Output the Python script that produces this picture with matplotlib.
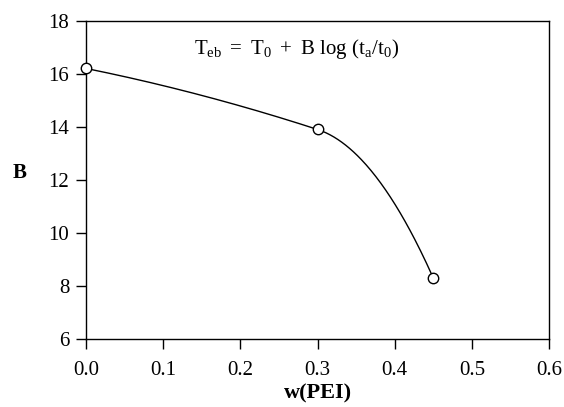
import numpy as np
import matplotlib
matplotlib.use("Agg")
import matplotlib.pyplot as plt

w_pei = [0.0, 0.30, 0.45]
B_vals = [16.2, 13.9, 8.3]
x_ticks = [0.0, 0.1, 0.2, 0.3, 0.4, 0.5, 0.6]
y_ticks = [6, 8, 10, 12, 14, 16, 18]

plt.rcParams['font.family'] = ['Liberation Serif', 'DejaVu Serif']
plt.rcParams['mathtext.fontset'] = 'custom'
plt.rcParams['mathtext.rm'] = 'Liberation Serif'
plt.rcParams['mathtext.it'] = 'Liberation Serif'

# smooth Hermite curve through the data points
tension = 0.06  # interior tangent blend (curve style)
x = np.array(w_pei); y = np.array(B_vals)
h = np.diff(x); dlt = np.diff(y) / h
d_mid = dlt[0] + tension * (dlt[1] - dlt[0])
d = np.array([2 * dlt[0] - d_mid, d_mid, 2 * dlt[1] - d_mid])
xs, ys = [], []
for i in range(len(h)):
    t = np.linspace(0, 1, 120)
    h00 = 2*t**3 - 3*t**2 + 1; h10 = t**3 - 2*t**2 + t
    h01 = -2*t**3 + 3*t**2; h11 = t**3 - t**2
    xs.append(x[i] + t * h[i])
    ys.append(h00*y[i] + h10*h[i]*d[i] + h01*y[i+1] + h11*h[i]*d[i+1])
xs = np.concatenate(xs); ys = np.concatenate(ys)

fig = plt.figure(figsize=(5.64, 4.07), dpi=100)
ax = fig.add_axes([86/564, 1-339/407, 463/564, 318.3/407])
ax.plot(xs, ys, color='black', lw=1.0, zorder=2)
ax.plot(w_pei, B_vals, 'o', ms=7.5, mfc='white', mec='black', mew=1.0, zorder=3, clip_on=False)

ax.set_xlim(0, 0.6)
ax.set_ylim(6, 18)
ax.set_xticks(x_ticks)
ax.set_xticklabels([f"{v:.1f}" for v in x_ticks])
ax.set_yticks(y_ticks)
ax.tick_params(direction='out', length=7, width=1, labelsize=15, colors='black', pad=5)
ax.tick_params(axis='x', pad=9)
for s in ax.spines.values():
    s.set_linewidth(1.0)

ax.set_xlabel('w(PEI)', fontsize=16, fontweight='bold', labelpad=2)
ax.text(20/564, 1-173/407, 'B', transform=fig.transFigure, ha='center', va='center',
        fontsize=15, fontweight='bold')

ax.text(0.455, 0.91, r'$\mathrm{T_{eb}\ =\ T_0\ +\ B\ log\ (t_a/t_0)}$',
        transform=ax.transAxes, ha='center', va='center', fontsize=15)

fig.savefig('out.png', dpi=100)
